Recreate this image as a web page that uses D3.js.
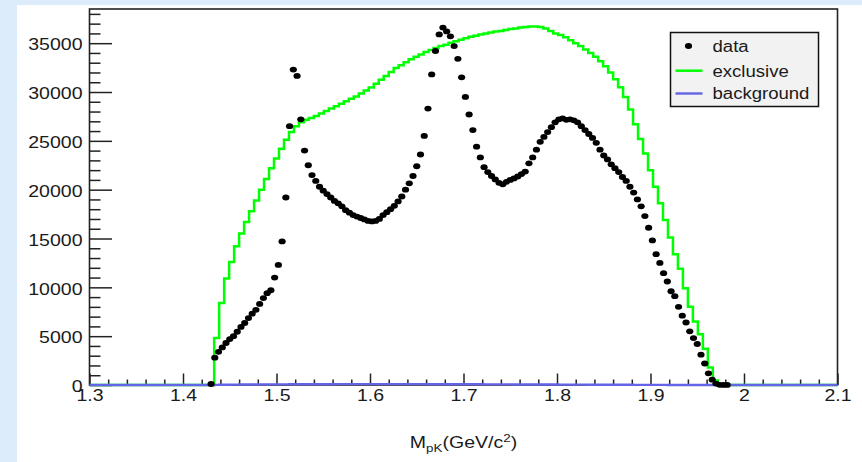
<!DOCTYPE html>
<html>
<head>
<meta charset="utf-8">
<script src="https://cdn.jsdelivr.net/npm/d3@7"></script>
<style>
  body { margin: 0; background: #dcecfb; }
  svg { display: block; }
  text { font-family: "Liberation Sans", Arial, Helvetica, sans-serif; fill: #1a1a1a; }
</style>
</head>
<body>
<script>
// histogram ranges
var xMin = 1.3, xMax = 2.1, yMax = 38500;

// data: 200 bins over 1.3-2.1, listed from bin 32 (1.428) on
var dataBins = 200, dataFirstBin = 32;
var dataCounts = [
    100, 2800, 3400, 3850, 4300, 4700, 5000, 5450, 5950, 6350,
    6850, 7300, 7700, 8300, 8900, 9400, 9700, 11000, 12300, 14700,
    19200, 26500, 32300, 31650, 27200, 24000, 22500, 21500, 20900, 20300,
    19900, 19550, 19200, 18850, 18600, 18300, 17900, 17650, 17400, 17250,
    17100, 16950, 16800, 16750, 16800, 17000, 17400, 17700, 18000, 18350,
    18800, 19300, 20000, 20650, 21400, 22400, 23600, 25500, 28300, 31800,
    34200, 35900, 36600, 36200, 35700, 34700, 33400, 31500, 29500, 27700,
    26100, 24400, 23300, 22300, 21800, 21400, 21050, 20700, 20550, 20800,
    21000, 21150, 21350, 21600, 21850, 22700, 23300, 24100, 24900, 25400,
    25900, 26400, 26900, 27200, 27300, 27150, 27200, 27100, 26900, 26500,
    26100, 25700, 25300, 24800, 24100, 23500, 23100, 22600, 22200, 21800,
    21300, 20900, 20300, 19700, 19000, 18300, 17300, 16100, 14800, 13400,
    12500, 11450, 10600, 9600, 9100, 8000, 7100, 6400, 5500, 4800,
    4200, 3100, 2200, 1200, 550, 150, 20, 10, 5
];

// exclusive MC and background: 150 bins over 1.3-2.1, listed from bin 25 on
var mcBins = 150, mcFirstBin = 25;
var exclCounts = [
    4800, 8400, 10900, 12600, 14200, 15500, 16700, 17800, 18900, 20000,
    21100, 22200, 23200, 24200, 25100, 25900, 26500, 26900, 27150, 27350,
    27550, 27800, 28050, 28300, 28550, 28800, 29050, 29300, 29550, 29850,
    30150, 30450, 30850, 31250, 31650, 32050, 32450, 32750, 33050, 33350,
    33600, 33850, 34100, 34300, 34500, 34700, 34850, 35050, 35200, 35350,
    35500, 35650, 35750, 35900, 36000, 36100, 36200, 36250, 36350, 36450,
    36500, 36600, 36650, 36700, 36700, 36650, 36500, 36250, 36000, 35850,
    35600, 35300, 35000, 34700, 34350, 34000, 33600, 33150, 32650, 32000,
    31300, 30500, 29500, 28200, 26700, 25200, 23700, 22000, 20300, 18600,
    16900, 15100, 13400, 11900, 9900, 8000, 6500, 5200, 3700, 1800,
    450
];
var bkgCounts = [
    10, 20, 30, 35, 40, 45, 45, 50, 50, 55,
    55, 60, 60, 65, 65, 70, 70, 70, 75, 75,
    75, 80, 80, 80, 85, 85, 85, 85, 90, 90,
    90, 90, 90, 90, 90, 90, 90, 90, 90, 85,
    85, 85, 85, 80, 80, 80, 80, 75, 75, 75,
    75, 70, 70, 70, 65, 65, 65, 60, 60, 60,
    55, 55, 55, 50, 50, 50, 45, 45, 45, 40,
    40, 40, 35, 35, 35, 30, 30, 30, 25, 25,
    25, 20, 20, 20, 15, 15, 15, 10, 10, 10,
    10, 5, 5, 5, 5, 5, 3, 3, 3, 3,
    0
];

var xTicks = [1.3, 1.4, 1.5, 1.6, 1.7, 1.8, 1.9, 2.0, 2.1];
var xTickLabels = ["1.3", "1.4", "1.5", "1.6", "1.7", "1.8", "1.9", "2", "2.1"];
var yTicks = [0, 5000, 10000, 15000, 20000, 25000, 30000, 35000];
var yTickLabels = ["0", "5000", "10000", "15000", "20000", "25000", "30000", "35000"];

var legendNames = ["data", "exclusive", "background"];

var W = 862, H = 462,
    frame = { left: 89.5, right: 837.5, top: 9, bottom: 385 },
    stretch = 1.22;   // text in the picture is wider than tall

var svg = d3.select("body").append("svg").attr("width", W).attr("height", H);

// white pad on the light blue canvas
svg.append("rect").attr("x", 17).attr("y", 5).attr("width", W - 17).attr("height", H - 5).attr("fill", "#fff");

var x = d3.scaleLinear().domain([xMin, xMax]).range([frame.left, frame.right]);
var y = d3.scaleLinear().domain([0, yMax]).range([frame.bottom, frame.top]);

// clip to the frame, but let lines on the zero level show in full
svg.append("clipPath").attr("id", "clip").append("rect")
    .attr("x", frame.left).attr("y", frame.top)
    .attr("width", frame.right - frame.left).attr("height", frame.bottom - frame.top + 3);

function stepPoints(counts, nbins, first) {
    var w = (xMax - xMin) / nbins;
    var pts = [[xMin, 0]];
    counts.forEach(function(v, j) { pts.push([xMin + (first + j) * w, v]); });
    pts.push([xMin + (first + counts.length) * w, 0]);
    pts.push([xMax, 0]);
    return pts;
}

var step = d3.line()
    .x(function(d) { return x(d[0]); })
    .y(function(d) { return y(d[1]); })
    .curve(d3.curveStepAfter);

// axes, ticks pointing inside the frame
var yMinor = d3.range(1000, yMax, 1000).filter(function(v) { return v % 5000 !== 0; });
var xMinor = d3.range(0, 41).map(function(i) { return +(xMin + i * 0.02).toFixed(2); })
    .filter(function(v, i) { return i % 5 !== 0; });

var yAxis = svg.append("g").attr("transform", "translate(" + frame.left + ",0)")
    .call(d3.axisLeft(y).tickValues(yTicks)
        .tickFormat(function(d, i) { return yTickLabels[i]; })
        .tickSizeInner(-22.5).tickSizeOuter(0).tickPadding(7));
svg.append("g").attr("transform", "translate(" + frame.left + ",0)")
    .call(d3.axisLeft(y).tickValues(yMinor).tickFormat("").tickSizeInner(-11).tickSizeOuter(0));

var xAxis = svg.append("g").attr("transform", "translate(0," + frame.bottom + ")")
    .call(d3.axisBottom(x).tickValues(xTicks)
        .tickFormat(function(d, i) { return xTickLabels[i]; })
        .tickSizeInner(-11.5).tickSizeOuter(0).tickPadding(4.5));
svg.append("g").attr("transform", "translate(0," + frame.bottom + ")")
    .call(d3.axisBottom(x).tickValues(xMinor).tickFormat("").tickSizeInner(-5.5).tickSizeOuter(0));

svg.selectAll(".domain").remove();
svg.selectAll(".tick line").attr("stroke", "#222").attr("stroke-width", 1.5);
svg.selectAll(".tick text").attr("font-size", 16).attr("fill", "#1a1a1a");

yAxis.selectAll(".tick text")
    .attr("x", 0).attr("dy", "0.42em")
    .attr("transform", "translate(-7,0) scale(" + stretch + ",1)");
xAxis.selectAll(".tick text")
    .attr("transform", "scale(" + stretch + ",1)");

svg.append("rect")
    .attr("x", frame.left).attr("y", frame.top)
    .attr("width", frame.right - frame.left).attr("height", frame.bottom - frame.top)
    .attr("fill", "none").attr("stroke", "#222").attr("stroke-width", 1.6);

// histograms drawn over the frame
var plot = svg.append("g").attr("clip-path", "url(#clip)");

plot.append("path")
    .attr("d", step(stepPoints(exclCounts, mcBins, mcFirstBin)))
    .attr("fill", "none").attr("stroke", "#00ff00").attr("stroke-width", 2.5);

plot.append("path")
    .attr("d", step(stepPoints(bkgCounts, mcBins, mcFirstBin)))
    .attr("fill", "none").attr("stroke", "#6464e6").attr("stroke-width", 2.4);

var dataW = (xMax - xMin) / dataBins;
plot.selectAll(".dot")
    .data(dataCounts)
    .enter().append("ellipse")
    .attr("class", "dot")
    .attr("cx", function(d, j) { return x(xMin + (dataFirstBin + j + 0.5) * dataW); })
    .attr("cy", function(d) { return y(d); })
    .attr("rx", 3.6).attr("ry", 2.9)
    .attr("fill", "#000");

// x axis title
var title = svg.append("text")
    .attr("text-anchor", "middle").attr("font-size", 16)
    .attr("transform", "translate(" + ((frame.left + frame.right) / 2) + ",448) scale(" + stretch + ",1)");
title.append("tspan").text("M");
title.append("tspan").attr("font-size", 11).attr("dy", 3.5).text("pK");
title.append("tspan").attr("dy", -3.5).text("(GeV/c");
title.append("tspan").attr("font-size", 11).attr("dy", -6).text("2");
title.append("tspan").attr("dy", 6).text(")");

// legend
var leg = svg.append("g");
leg.append("rect")
    .attr("x", 670.5).attr("y", 32.5).attr("width", 148).attr("height", 74)
    .attr("fill", "#f2f2f2").attr("stroke", "#111").attr("stroke-width", 1.5);

var legY = [46, 70.7, 93.5];
leg.append("ellipse").attr("cx", 688.5).attr("cy", legY[0]).attr("rx", 3.6).attr("ry", 2.9).attr("fill", "#000");
leg.append("line").attr("x1", 675.5).attr("x2", 702.5).attr("y1", legY[1]).attr("y2", legY[1])
    .attr("stroke", "#00ff00").attr("stroke-width", 2.5);
leg.append("line").attr("x1", 675.5).attr("x2", 702.5).attr("y1", legY[2]).attr("y2", legY[2])
    .attr("stroke", "#6464e6").attr("stroke-width", 2.4);

leg.selectAll(".lab")
    .data(legendNames)
    .enter().append("text")
    .attr("class", "lab")
    .attr("font-size", 16)
    .attr("transform", function(d, i) {
        return "translate(712.5," + (legY[i] + 5.8) + ") scale(1.16,1)";
    })
    .text(function(d) { return d; });
</script>
</body>
</html>
